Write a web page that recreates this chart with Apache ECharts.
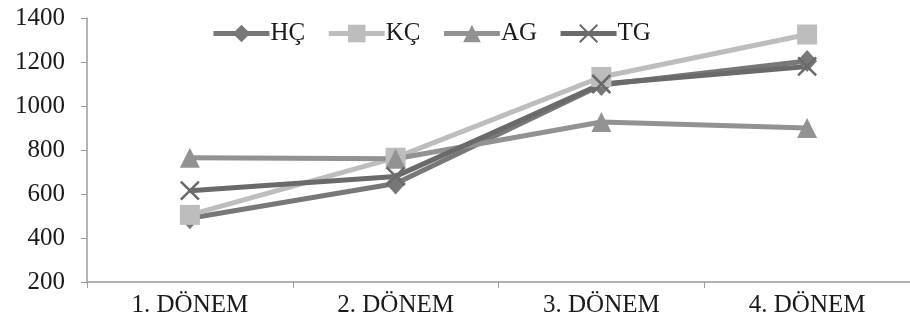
<!DOCTYPE html>
<html><head><meta charset="utf-8">
<script src="https://cdn.jsdelivr.net/npm/echarts@6/dist/echarts.min.js"></script>
<style>html,body{margin:0;padding:0;background:#fff}#c{width:910px;height:333px}</style>
</head><body><div id="c"></div>
<script>
var categories = ['1. DÖNEM', '2. DÖNEM', '3. DÖNEM', '4. DÖNEM'];
var seriesNames = ['HÇ', 'KÇ', 'AG', 'TG'];
var hc = [490, 648, 1095, 1205];
var kc = [505, 765, 1132, 1325];
var ag = [765, 760, 927, 900];
var tg = [615, 680, 1100, 1180];
var yTicks = [200, 400, 600, 800, 1000, 1200, 1400];

var font = 'Liberation Serif';
var chart = echarts.init(document.getElementById('c'));
function ser(name, data, color, symbol, size, extra) {
  var s = {
    name: name, type: 'line', data: data, symbol: symbol, symbolSize: size,
    lineStyle: {color: color, width: 5}, itemStyle: {color: color},
    showAllSymbol: true, animation: false
  };
  if (extra) Object.assign(s, extra);
  return s;
}
chart.setOption({
  animation: false,
  textStyle: {fontFamily: font},
  legend: {
    left: 206, top: 16, itemWidth: 56, itemHeight: 22, itemGap: 21,
    lineStyle: {width: 5},
    textStyle: {fontFamily: font, fontSize: 25, color: '#1a1a1a', padding: [0,0,0,-4]},
    data: seriesNames
  },
  grid: {left: 87, top: 18, width: 828, bottom: 51, containLabel: false},
  xAxis: {
    type: 'category', data: categories, boundaryGap: true,
    axisLine: {lineStyle: {color: '#9b9b9b', width: 1.5}},
    axisTick: {show: true, length: 6, lineStyle: {color: '#9b9b9b'}},
    axisLabel: {fontFamily: font, fontSize: 25, color: '#1a1a1a', margin: 11}
  },
  yAxis: {
    type: 'value', min: yTicks[0], max: yTicks[yTicks.length - 1], interval: 200,
    axisLine: {show: true, lineStyle: {color: '#9b9b9b', width: 1.5}},
    axisTick: {show: true, length: 6, lineStyle: {color: '#9b9b9b'}},
    splitLine: {show: false},
    axisLabel: {fontFamily: font, fontSize: 25, color: '#1a1a1a', margin: 22,
      formatter: function (v) { return String(v); }}
  },
  series: [
    ser('HÇ', hc, '#787878', 'diamond', [20, 22]),
    ser('KÇ', kc, '#bdbdbd', 'rect', 20),
    ser('AG', ag, '#929292', 'triangle', 20),
    ser('TG', tg, '#6a6a6a', 'path://M0,0L10,10M10,0L0,10', 18,
      {itemStyle: {color: 'none', borderColor: '#6a6a6a', borderWidth: 2.5}})
  ]
});
</script></body></html>
